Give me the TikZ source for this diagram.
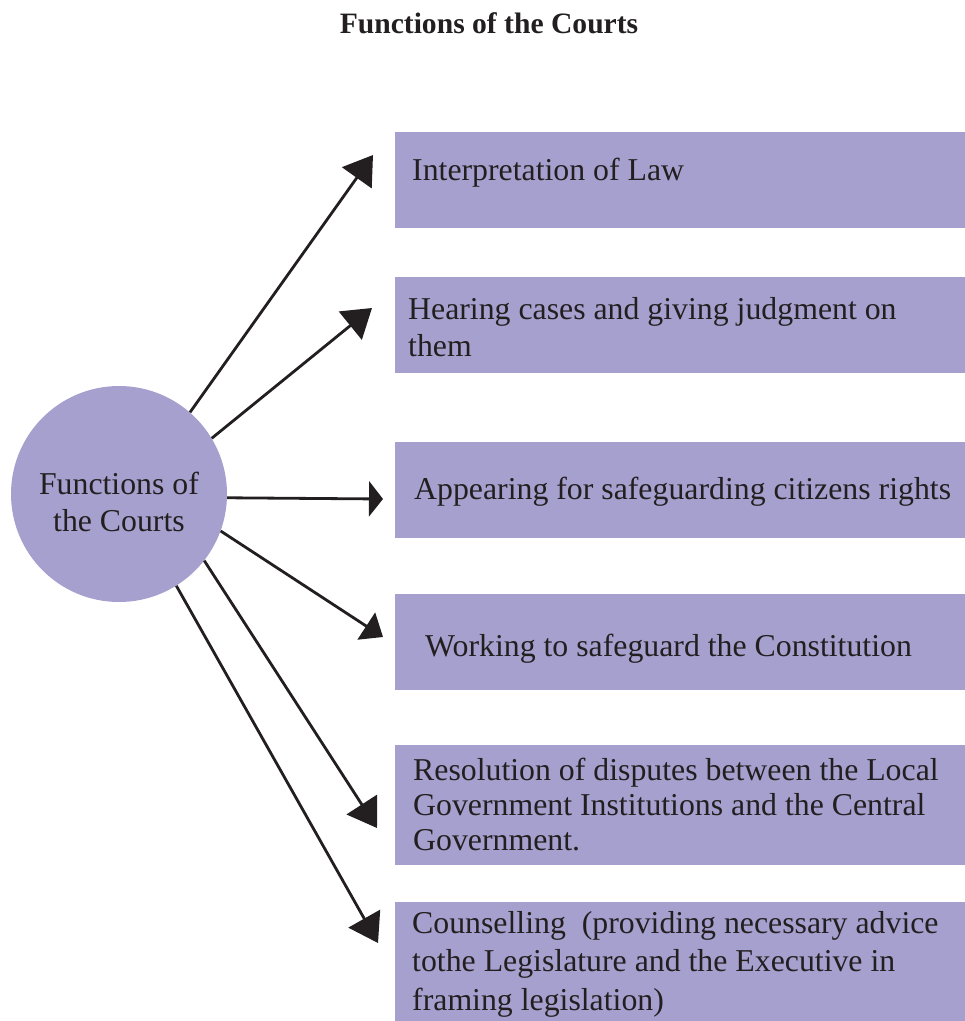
\documentclass[tikz,border=0pt]{standalone}
\usepackage{fontspec}
\setmainfont{Liberation Serif}
\usetikzlibrary{arrows.meta}
\definecolor{lav}{HTML}{A6A0CE}
\definecolor{ink}{HTML}{231F20}
\tikzset{
  fbox/.style={fill=lav, draw=none, anchor=north west, inner sep=0pt},
  % text nodes are placed by the baseline of their last line
  ftext/.style={anchor=base west, inner sep=0pt, align=left, text=ink},
  body/.style={font=\fontsize{31.8}{#1}\selectfont},
  body/.default=37.7,
  hub/.style={circle, fill=lav, draw=none, minimum size=216pt, inner sep=0pt},
  link/.style={line width=2.8pt, draw=ink, -{Triangle[length=28pt,width=36pt]}},
}
\begin{document}
\begin{tikzpicture}[x=1pt,y=-1pt]
\useasboundingbox (0,0) rectangle (965,1021);

% title
\node[anchor=base, inner sep=0pt, text=ink, font=\fontsize{29.6}{34}\selectfont\bfseries] (title) at (489,33)
  {Functions of the Courts};

% central circle
\node[hub] (hub) at (119,494) {};
\node[anchor=base, inner sep=0pt, align=center, text=ink, body] (hubtext) at (119,531.7)
  {Functions of\\the Courts};

% function boxes
\node[fbox, minimum width=570pt, minimum height=96pt]  (b1) at (395,132) {};
\node[fbox, minimum width=570pt, minimum height=96pt]  (b2) at (395,277) {};
\node[fbox, minimum width=570pt, minimum height=96pt]  (b3) at (395,442) {};
\node[fbox, minimum width=570pt, minimum height=96pt]  (b4) at (395,594) {};
\node[fbox, minimum width=570pt, minimum height=120pt] (b5) at (395,745) {};
\node[fbox, minimum width=570pt, minimum height=119pt] (b6) at (395,902) {};

\node[ftext, body] (t1) at (412,180) {Interpretation of Law};
\node[ftext, body] (t2) at (408,356.7) {Hearing cases and giving judgment on\\them};
\node[ftext, body] (t3) at (414,499) {Appearing for safeguarding citizens rights};
\node[ftext, body] (t4) at (425,656) {Working to safeguard the Constitution};
\node[ftext, body=35] (t5) at (413,850) {Resolution of disputes between the Local\\Government Institutions and the Central\\Government.};
\node[ftext, body=38.5] (t6) at (412,1010) {Counselling\ \ (providing necessary advice\\tothe Legislature and the Executive in\\framing legislation)};

% arrow tips
\coordinate (p1) at (373,155);
\coordinate (p2) at (372,308);
\coordinate (p3) at (383,499);
\coordinate (p4) at (383,637);
\coordinate (p5) at (377,828);
\coordinate (p6) at (378,943);

\draw[link] (hub.49.8) -- (p1);
\draw[link] (hub.31.2) -- (p2);
\draw[link, -{Triangle[length=14pt,width=35pt]}] (hub.-2.6) -- (p3);
\draw[link, -{Triangle[length=20pt,width=32pt]}] (hub.-20.6) -- (p4);
\draw[link] (hub.-38.3) -- (p5);
\draw[link] (hub.-58) -- (p6);
\end{tikzpicture}
\end{document}
